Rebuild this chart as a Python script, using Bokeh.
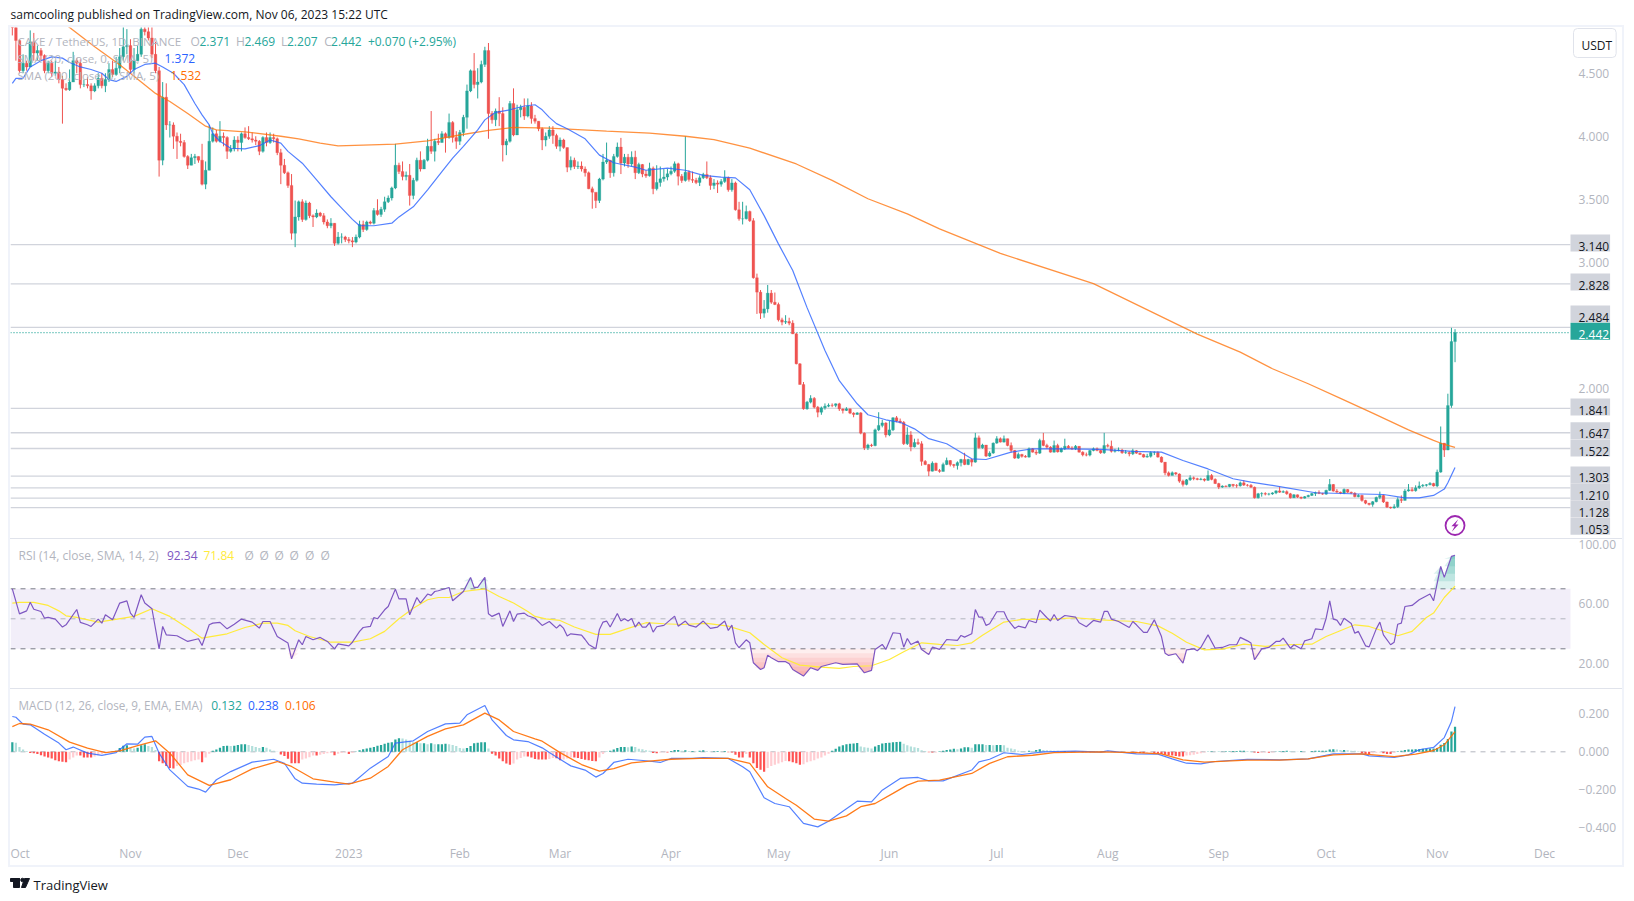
from bokeh.core.properties import value
from bokeh.embed import file_html
from bokeh.layouts import column
from bokeh.models import BoxAnnotation, ColumnDataSource, FixedTicker, Label, NumeralTickFormatter, Range1d
from bokeh.plotting import figure
from bokeh.resources import INLINE

FONT = "Open Sans"
GREEN = "#26a69a"
RED = "#ef5350"
GREY = "#b2b5be"
PANE_W = 1612

first_open = 4.95
closes = [
    4.90,4.76,4.52,4.58,4.55,4.75,4.66,4.68,4.64,4.52,
    4.58,4.50,4.51,4.45,4.38,4.37,4.43,4.60,4.58,4.41,
    4.41,4.40,4.36,4.40,4.46,4.40,4.45,4.53,4.49,4.54,
    4.63,4.71,4.72,4.53,4.60,4.65,4.85,4.83,4.78,4.65,
    4.52,3.81,4.31,4.09,4.09,4.00,3.96,3.95,3.84,3.77,
    3.83,3.84,3.81,3.62,3.73,3.96,4.02,3.96,4.00,3.99,
    3.88,3.90,3.97,3.95,4.02,3.99,3.98,3.97,3.96,3.88,
    3.99,3.95,3.99,3.98,3.87,3.77,3.71,3.61,3.23,3.36,
    3.48,3.34,3.47,3.37,3.36,3.39,3.37,3.32,3.29,3.31,
    3.15,3.20,3.20,3.18,3.17,3.16,3.20,3.30,3.26,3.32,
    3.31,3.41,3.38,3.42,3.48,3.51,3.59,3.77,3.72,3.68,
    3.69,3.53,3.65,3.81,3.74,3.81,3.92,3.88,3.96,3.95,
    4.02,3.99,4.11,3.99,3.96,4.03,4.15,4.36,4.52,4.41,
    4.43,4.57,4.68,4.18,4.13,4.20,4.18,3.93,3.96,4.26,
    4.01,4.21,4.23,4.16,4.24,4.14,4.12,4.06,3.97,4.00,
    4.05,4.006,3.92,3.97,3.91,3.755,3.81,3.76,3.763,3.74,
    3.71,3.583,3.556,3.49,3.66,3.795,3.81,3.71,3.84,3.914,
    3.787,3.834,3.78,3.834,3.71,3.776,3.70,3.686,3.747,3.583,
    3.633,3.662,3.676,3.702,3.723,3.781,3.683,3.649,3.715,3.657,
    3.65,3.633,3.67,3.697,3.67,3.61,3.63,3.62,3.64,3.67,
    3.575,3.63,3.416,3.345,3.345,3.403,3.33,2.877,2.763,2.596,
    2.63,2.755,2.683,2.665,2.543,2.525,2.53,2.517,2.432,2.194,
    2.03,1.837,1.89,1.92,1.85,1.81,1.845,1.858,1.865,1.864,
    1.877,1.836,1.824,1.837,1.803,1.792,1.805,1.644,1.527,1.55,
    1.545,1.67,1.705,1.725,1.63,1.67,1.766,1.74,1.73,1.56,
    1.63,1.535,1.57,1.56,1.42,1.395,1.342,1.406,1.348,1.34,
    1.395,1.427,1.395,1.387,1.41,1.435,1.395,1.435,1.414,1.607,
    1.528,1.55,1.462,1.486,1.565,1.60,1.573,1.60,1.546,1.507,
    1.446,1.475,1.46,1.454,1.52,1.493,1.485,1.586,1.546,1.533,
    1.493,1.546,1.495,1.52,1.54,1.527,1.52,1.54,1.493,1.472,
    1.47,1.506,1.52,1.507,1.488,1.546,1.54,1.50,1.505,1.51,
    1.488,1.49,1.48,1.505,1.485,1.475,1.454,1.46,1.49,1.49,
    1.454,1.414,1.329,1.308,1.33,1.32,1.263,1.237,1.274,1.29,
    1.283,1.276,1.28,1.27,1.308,1.277,1.244,1.216,1.224,1.22,
    1.238,1.228,1.226,1.25,1.232,1.23,1.215,1.131,1.163,1.165,
    1.16,1.161,1.17,1.186,1.175,1.18,1.163,1.131,1.155,1.136,
    1.128,1.14,1.15,1.165,1.173,1.165,1.16,1.19,1.237,1.184,
    1.176,1.168,1.197,1.175,1.168,1.14,1.15,1.11,1.088,1.078,
    1.10,1.134,1.15,1.098,1.057,1.05,1.06,1.117,1.11,1.185,
    1.195,1.187,1.21,1.225,1.23,1.235,1.245,1.225,1.335,1.565,
    1.51,1.863,2.371,2.442,
]
highs = [
    5.0,4.9,4.77,4.65,4.6,4.84,4.82,4.72,4.7,4.65,
    4.6,4.6,4.6,4.55,4.48,4.42,4.53,4.67,4.62,4.61,
    4.45,4.47,4.42,4.42,4.5,4.5,4.5,4.58,4.6,4.63,
    4.7,4.87,4.85,4.77,4.7,4.72,4.92,4.9,4.9,4.9,
    4.75,4.55,4.43,4.42,4.12,4.11,4.03,4.02,3.97,3.85,
    3.86,3.86,3.84,3.94,3.8,4.09,4.07,4.05,4.12,4.03,
    4.0,3.93,4.0,4.0,4.03,4.07,4.08,4.03,4.0,3.97,
    4.0,4.03,4.03,4.02,3.99,3.9,3.82,3.72,3.70,3.49,
    3.49,3.5,3.49,3.48,3.38,3.42,3.40,3.39,3.34,3.35,
    3.31,3.24,3.23,3.21,3.2,3.2,3.22,3.33,3.33,3.33,
    3.33,3.43,3.5,3.44,3.52,3.53,3.6,3.94,3.79,3.8,
    3.72,3.78,3.67,3.83,3.88,3.82,3.98,4.2,3.98,4.02,
    4.04,4.03,4.18,4.12,4.04,4.05,4.17,4.41,4.53,4.66,
    4.54,4.6,4.71,4.74,4.2,4.22,4.31,4.23,3.98,4.28,
    4.38,4.25,4.25,4.3,4.3,4.27,4.17,4.12,4.07,4.03,
    4.08,4.08,4.02,3.99,3.98,3.91,3.84,3.83,3.8,3.8,
    3.76,3.72,3.6,3.55,3.67,3.86,3.95,3.81,3.86,3.95,
    3.987,3.86,3.86,3.88,3.885,3.79,3.78,3.73,3.79,3.76,
    3.77,3.76,3.74,3.74,3.76,3.8,3.79,3.7,4.0,3.73,
    3.72,3.67,3.69,3.71,3.8,3.69,3.66,3.65,3.66,3.73,
    3.68,3.66,3.64,3.48,3.48,3.45,3.41,3.35,2.91,2.78,
    2.7,2.82,2.78,2.76,2.68,2.56,2.58,2.56,2.54,2.44,
    2.2,2.05,1.9,1.945,1.93,1.86,1.855,1.88,1.88,1.88,
    1.88,1.885,1.84,1.85,1.84,1.81,1.81,1.81,1.65,1.56,
    1.56,1.68,1.81,1.75,1.73,1.74,1.77,1.78,1.76,1.74,
    1.69,1.66,1.6,1.6,1.58,1.43,1.4,1.42,1.41,1.36,
    1.41,1.45,1.43,1.4,1.42,1.44,1.488,1.44,1.44,1.646,
    1.625,1.56,1.55,1.5,1.57,1.62,1.61,1.625,1.6,1.57,
    1.51,1.49,1.48,1.47,1.53,1.525,1.51,1.6,1.646,1.56,
    1.54,1.585,1.56,1.53,1.6,1.55,1.54,1.55,1.54,1.5,
    1.49,1.51,1.53,1.53,1.51,1.646,1.56,1.585,1.52,1.53,
    1.52,1.51,1.5,1.52,1.51,1.49,1.48,1.48,1.5,1.5,
    1.5,1.46,1.415,1.34,1.34,1.335,1.325,1.275,1.28,1.31,
    1.3,1.29,1.29,1.285,1.348,1.32,1.285,1.25,1.23,1.23,
    1.24,1.24,1.24,1.26,1.27,1.24,1.24,1.22,1.17,1.175,
    1.175,1.17,1.175,1.19,1.22,1.19,1.19,1.17,1.16,1.157,
    1.14,1.145,1.155,1.17,1.18,1.19,1.17,1.195,1.28,1.24,
    1.2,1.18,1.205,1.2,1.18,1.175,1.16,1.155,1.115,1.09,
    1.105,1.14,1.18,1.155,1.1,1.06,1.08,1.135,1.15,1.2,
    1.24,1.215,1.23,1.26,1.24,1.24,1.255,1.25,1.355,1.697,
    1.565,1.957,2.48,2.469,
]
lows = [
    4.8,4.6,4.5,4.5,4.52,4.55,4.6,4.6,4.6,4.5,
    4.5,4.47,4.48,4.42,4.1,4.36,4.36,4.45,4.5,4.38,
    4.39,4.38,4.29,4.35,4.38,4.38,4.35,4.43,4.47,4.48,
    4.5,4.6,4.65,4.5,4.5,4.6,4.63,4.8,4.76,4.62,
    4.5,3.68,3.77,4.05,3.99,3.9,3.82,3.92,3.83,3.74,
    3.77,3.78,3.79,3.61,3.58,3.73,3.95,3.95,3.95,3.92,
    3.82,3.87,3.88,3.88,3.88,3.98,3.97,3.95,3.93,3.85,
    3.87,3.92,3.94,3.95,3.85,3.62,3.70,3.59,3.18,3.12,
    3.33,3.32,3.33,3.35,3.28,3.35,3.36,3.3,3.27,3.27,
    3.13,3.14,3.15,3.16,3.15,3.12,3.15,3.19,3.24,3.25,
    3.3,3.3,3.37,3.36,3.4,3.47,3.49,3.58,3.7,3.65,
    3.65,3.45,3.5,3.64,3.72,3.74,3.8,3.86,3.8,3.93,
    3.95,3.87,3.98,3.95,3.9,3.93,4.0,4.06,4.35,4.38,
    4.3,4.42,4.55,3.98,4.1,4.08,4.08,3.8,3.85,3.95,
    4.0,4.01,4.15,4.13,4.15,4.1,4.1,4.04,3.89,3.92,
    3.98,3.94,3.9,3.88,3.9,3.715,3.73,3.74,3.74,3.72,
    3.68,3.58,3.425,3.43,3.47,3.65,3.78,3.67,3.68,3.83,
    3.7,3.76,3.75,3.76,3.66,3.70,3.675,3.67,3.68,3.54,
    3.57,3.6,3.64,3.65,3.69,3.71,3.61,3.63,3.64,3.64,
    3.63,3.62,3.605,3.66,3.66,3.575,3.58,3.55,3.6,3.63,
    3.56,3.56,3.41,3.33,3.30,3.34,3.32,2.87,2.59,2.55,
    2.56,2.6,2.67,2.66,2.53,2.5,2.51,2.5,2.43,2.19,
    2.03,1.83,1.83,1.88,1.84,1.77,1.79,1.83,1.85,1.85,
    1.85,1.82,1.8,1.82,1.795,1.77,1.79,1.635,1.51,1.51,
    1.535,1.54,1.66,1.69,1.61,1.62,1.66,1.73,1.72,1.55,
    1.55,1.50,1.53,1.55,1.385,1.39,1.303,1.34,1.345,1.33,
    1.34,1.39,1.38,1.37,1.355,1.38,1.39,1.39,1.38,1.41,
    1.52,1.52,1.455,1.455,1.48,1.56,1.57,1.57,1.54,1.49,
    1.44,1.44,1.45,1.45,1.45,1.49,1.47,1.48,1.54,1.52,
    1.49,1.49,1.49,1.49,1.51,1.52,1.51,1.51,1.49,1.46,
    1.46,1.46,1.5,1.5,1.48,1.48,1.53,1.49,1.49,1.5,
    1.48,1.48,1.46,1.47,1.48,1.47,1.45,1.45,1.45,1.47,
    1.45,1.41,1.31,1.3,1.31,1.31,1.25,1.22,1.23,1.265,
    1.27,1.27,1.27,1.26,1.265,1.27,1.24,1.2,1.21,1.215,
    1.215,1.215,1.21,1.22,1.225,1.22,1.21,1.125,1.125,1.14,
    1.15,1.15,1.155,1.16,1.17,1.17,1.155,1.125,1.13,1.13,
    1.12,1.125,1.135,1.145,1.145,1.16,1.155,1.155,1.185,1.18,
    1.17,1.16,1.16,1.17,1.16,1.135,1.135,1.1,1.08,1.07,
    1.06,1.095,1.12,1.09,1.05,1.045,1.045,1.05,1.09,1.11,
    1.18,1.18,1.18,1.2,1.215,1.22,1.23,1.22,1.215,1.33,
    1.455,1.51,1.845,2.207,
]
days = list(range(-2, 402))

sma20_days = [-2,-1,1,3,6,9,12,14,17,20,23,25,27,30,32,35,38,40,43,46,49,51,53,54,56,59,63,67,70,73,75,79,83,87,90,93,95,99,104,106,110,114,118,121,124,128,130,133,137,141,144,146,148,150,153,158,162,166,172,175,181,186,191,196,200,204,208,212,216,220,225,229,234,237,242,246,250,254,259,266,270,277,283,293,302,311,319,325,332,339,344,350,362,372,381,387,391,395,398,399,401]
sma20 = [4.42,4.46,4.46,4.55,4.6,4.63,4.62,4.585,4.55,4.53,4.5,4.45,4.435,4.475,4.53,4.57,4.58,4.55,4.5,4.41,4.26,4.17,4.09,4.02,3.96,3.905,3.9,3.925,3.97,3.945,3.88,3.786,3.654,3.52,3.43,3.34,3.29,3.29,3.31,3.36,3.44,3.575,3.72,3.826,3.92,4.05,4.13,4.19,4.21,4.24,4.25,4.21,4.15,4.1,4.06,3.98,3.85,3.79,3.755,3.73,3.747,3.73,3.69,3.675,3.67,3.575,3.37,3.146,2.935,2.64,2.3,2.06,1.877,1.79,1.75,1.73,1.678,1.6,1.56,1.44,1.435,1.493,1.52,1.52,1.515,1.5,1.493,1.427,1.36,1.282,1.255,1.229,1.171,1.163,1.157,1.131,1.131,1.15,1.2,1.25,1.372]
sma200_days = [5,14,21,28,38,42,47,52,55,63,73,78,84,89,96,105,114,123,131,138,148,164,176,186,194,204,217,227,237,248,257,274,300,329,341,350,360,369,378,388,395,398,401]
sma200 = [5.05,4.863,4.71,4.567,4.34,4.276,4.18,4.08,4.05,4.035,4.0,3.98,3.945,3.924,3.93,3.937,3.964,4.01,4.046,4.07,4.064,4.04,4.025,4.0,3.974,3.906,3.78,3.65,3.504,3.384,3.265,3.07,2.83,2.43,2.287,2.155,2.036,1.92,1.803,1.67,1.586,1.554,1.532]

levels = [3.140, 2.828, 2.484, 1.841, 1.647, 1.522, 1.303, 1.210, 1.128, 1.053]
last_price = 2.442
price_ticks = [2.0, 3.0, 3.5, 4.0, 4.5]

rsi_days = [-2,0,2,3,4,6,7,8,10,12,13,16,17,19,20,22,23,24,26,28,30,31,32,34,35,37,39,40,41,44,47,50,51,53,54,56,58,60,62,65,67,68,70,72,75,76,78,79,80,82,84,86,88,89,92,93,95,96,98,99,100,102,103,105,106,108,109,111,112,114,115,116,117,120,121,124,126,127,128,130,131,132,134,135,137,138,139,141,142,144,146,148,150,151,
    152,153,154,157,158,159,161,162,163,164,165,167,168,169,170,171,172,173,174,175,176,177,178,180,183,184,186,187,189,191,193,195,197,198,199,200,201,203,204,205,207,208,209,210,212,214,215,216,219,221,223,224,228,230,234,236,238,239,241,242,244,246,247,248,249,251,252,254,255,257,259,262,263,264,266,267,268,269,270,271,273,275,276,278,279,281,282,284,285,287,288,289,290,292,295,296,298,300,302,
    303,304,305,307,310,311,312,314,315,317,319,320,321,323,325,326,328,329,330,332,334,336,338,340,341,343,344,345,347,349,351,352,353,355,356,358,359,361,362,364,365,366,367,368,369,370,372,373,374,376,377,379,380,381,383,384,385,386,387,389,391,394,395,397,398,400,401]
rsi = [70,53.3,55.3,61.1,56.4,54.9,50.4,50.9,49.8,44.5,46,56.2,47.6,46,44.9,49.8,47.1,52.7,49.3,60.5,62,53.8,50.9,66,60.5,56.7,30,44.9,39.3,38.7,34.9,36.7,32.2,46,47.1,47.6,43.3,46.4,49.8,47.8,43.8,48.2,48.2,38.2,33.8,23.3,36,32.7,38.2,36,37.6,34.9,30,33.3,32,34.4,41.6,44.2,44.9,50.9,50,56,58.2,69.8,63.3,63.3,52.7,64.2,60.5,66.5,65.6,68.2,68.7,70.9,62,68.2,77.6,70.9,70.9,77.6,53.3,51.6,53.8,44.9,55.3,48.2,53.1,53.8,52,50.4,45.6,48.2,43.8,46,
    43.6,38.5,40,39.1,36.2,32.9,30,42.9,47.8,48.5,44.5,53.6,48.5,50,48.5,50.2,44.5,47.8,44.5,44.5,47.4,41.1,44.7,45.6,51.8,45.1,48.5,45.8,44.5,48.5,43.6,44.5,48.5,42.2,45.8,34,30.7,36,34,20.7,16.2,17.4,25.8,24,21.4,21.4,20,16.2,11.8,17.4,15.6,18.2,20.7,19.6,20,14,15.6,29.6,32.9,29.6,40.7,40.2,31.1,36.9,32.9,35.1,29.6,26.2,31.1,29.6,36.2,35.6,38.9,37.8,40,56.2,51.1,51.1,45.6,46.7,54.7,54.7,49.6,43.6,45.1,44,48.9,47.4,55.8,50.7,48.5,52.9,48.9,52.2,51.1,47.4,44.7,48.9,47.8,
    54.9,54.9,49.8,48.2,44.2,48.2,46,40.9,40.9,49.3,38.2,27.1,25.6,26.7,20.5,29.3,30,28.7,30.9,39.3,30.4,30.9,32.7,32.7,37.6,35.3,33.8,22.7,30,30.9,34.9,34.9,37.1,30.4,32.7,30,35.3,36.7,43.3,42.7,50.4,62,49.8,49.1,45.6,50.4,46.9,40.4,41.6,32,31.3,43.3,47.8,39.3,32.7,34.4,46.4,47.1,58.2,58.9,62.7,66.5,62,84.9,77.6,91.6,92.34]
rsi_ma_days = [-2,0,4,8,11,13,16,22,26,32,37,42,47,51,58,63,68,72,75,77,81,87,93,98,102,106,110,114,117,120,124,130,134,138,142,144,147,151,155,161,165,170,175,180,185,192,198,204,208,213,218,224,229,233,238,243,247,252,257,262,266,269,275,280,287,295,302,307,312,318,322,326,331,336,342,348,354,361,365,373,377,385,389,393,395,398,401]
rsi_ma = [60.4,60.9,60.9,58.9,55.3,52,50.9,47.8,49.3,51.6,56.7,51.6,43.8,37.1,40,44.2,47.1,47.1,45.6,42,38.2,34.4,34.4,36.7,41.6,50,57.1,62.7,64.2,64.2,68.2,70,64.9,60.5,54.9,51.6,50,48.9,44.5,39.6,39.6,43.6,47.4,46.7,46.2,46.9,45.1,40.7,32.9,24,19.1,17.8,16.9,18.2,18.7,22.9,28,34,32.9,32.2,34,39.1,47.8,49.6,49.6,50.7,49.3,48.7,48.2,45.3,40.4,34.4,29.3,29.8,33.1,31.6,32.7,33.1,38.2,46,44.9,38.7,41.6,50.9,53.8,64.2,71.84]
rsi_ticks = [20, 60, 100]

macd_days = [-2,-1,1,3,7,11,13,15,19,23,27,30,33,35,37,39,42,47,50,52,55,59,65,71,74,77,79,83,88,93,98,103,105,110,114,119,123,125,130,132,136,138,142,146,148,151,154,158,161,163,166,170,175,179,182,188,191,198,202,204,208,211,215,219,223,226,234,238,241,246,251,254,258,266,268,271,275,280,286,295,302,304,312,318,322,326,330,334,343,352,360,367,375,377,384,388,391,395,398,400,401]
macd = [.186,.182,.146,.142,.093,.046,.011,.025,-.007,-.019,-.004,.042,.04,.077,.081,-.007,-.095,-.182,-.196,-.212,-.147,-.104,-.054,-.039,-.06,-.142,-.165,-.17,-.174,-.165,-.086,-.025,.046,.058,.107,.147,.151,.195,.244,.168,.086,.063,.054,.021,-.004,-.039,-.074,-.096,-.133,-.114,-.056,-.039,-.047,-.056,-.035,-.035,-.03,-.035,-.079,-.105,-.242,-.272,-.289,-.377,-.395,-.365,-.26,-.263,-.202,-.14,-.135,-.153,-.153,-.096,-.053,-.039,-.005,-.014,0,.004,-.002,.005,-.011,-.012,-.037,-.06,-.063,-.051,-.039,-.042,-.037,-.011,-.011,-.021,-.03,-.016,.011,.023,.075,.16,.238]
signal_days = [-2,0,3,8,14,19,24,28,33,38,42,47,53,59,65,72,76,82,88,92,98,103,107,114,119,124,130,134,138,144,146,151,157,162,166,171,176,182,190,198,204,209,214,217,222,226,231,235,239,244,248,251,257,266,271,276,283,289,302,312,319,325,331,343,352,360,367,375,384,390,395,398,401]
signal = [.133,.149,.146,.116,.051,.019,-.004,.005,.032,.058,-.007,-.121,-.177,-.147,-.09,-.051,-.077,-.142,-.159,-.17,-.139,-.077,.011,.081,.121,.142,.204,.168,.107,.068,.056,-.004,-.067,-.102,-.088,-.058,-.049,-.039,-.035,-.035,-.061,-.184,-.246,-.281,-.354,-.365,-.337,-.289,-.272,-.219,-.175,-.154,-.149,-.114,-.061,-.026,-.018,-.004,0,-.004,-.011,-.042,-.054,-.044,-.044,-.037,-.016,-.011,-.025,-.012,.007,.037,.106]
hist = [
    .05,.048,.025,.012,.004,-.006,-.008,-.012,-.018,-.024,
    -.03,-.035,-.045,-.05,-.052,-.055,-.04,-.03,-.02,-.02,
    -.03,-.03,-.03,-.025,-.018,-.012,-.006,-.004,.002,.006,
    .02,.032,.034,.02,.018,.022,.034,.04,.03,.025,
    .01,-.05,-.06,-.075,-.085,-.088,-.075,-.07,-.06,-.055,
    -.05,-.045,-.04,-.055,-.03,-.01,.006,.012,.022,.03,
    .032,.03,.032,.036,.04,.04,.036,.03,.026,.02,
    .026,.022,.012,.006,.002,-.014,-.022,-.036,-.06,-.06,
    -.06,-.04,-.035,-.028,-.02,-.02,-.015,-.012,-.008,-.006,
    -.018,-.01,-.006,-.004,-.012,-.006,.002,.008,.014,.018,
    .022,.026,.032,.036,.042,.048,.05,.065,.072,.07,
    .065,.055,.05,.05,.045,.045,.04,.045,.04,.04,
    .04,.042,.04,.036,.03,.02,.018,.02,.03,.045,
    .048,.05,.05,.018,-.01,-.02,-.035,-.05,-.062,-.068,
    -.062,-.04,-.032,-.024,-.024,-.03,-.038,-.04,-.04,-.04,
    -.038,-.032,-.034,-.045,-.04,-.035,-.03,-.03,-.032,-.038,
    -.042,-.045,-.048,-.05,-.03,-.012,.002,.006,.012,.02,
    .026,.026,.024,.028,.026,.016,.014,.008,.006,-.006,
    -.008,-.004,-.002,-.004,.004,.01,.01,.006,.008,.004,
    .004,.002,.006,.008,.004,.002,.003,.004,.002,.004,
    -.002,-.004,-.016,-.03,-.03,-.012,-.03,-.06,-.085,-.095,
    -.105,-.085,-.075,-.068,-.062,-.055,-.048,-.05,-.055,-.06,
    -.068,-.065,-.055,-.05,-.045,-.035,-.03,-.02,-.01,.006,
    .016,.028,.034,.04,.042,.044,.046,.028,.024,.022,
    .018,.028,.036,.044,.046,.048,.05,.052,.053,.042,
    .034,.028,.024,.02,.008,.004,-.002,-.004,-.003,.003,
    .006,.01,.012,.016,.014,.018,.024,.024,.022,.04,
    .04,.04,.036,.036,.034,.036,.036,.034,.022,.018,
    .014,.006,.004,.002,.006,.004,.01,.014,.01,.008,
    .007,.006,.005,.004,.004,.003,.002,.001,-.001,-.002,
    -.002,-.002,.001,.002,.002,.001,.001,-.001,.001,.001,
    .001,.001,.001,-.002,-.004,-.006,-.006,-.005,-.004,-.006,
    -.008,-.012,-.015,-.018,-.02,-.022,-.024,-.025,-.02,-.018,
    -.016,-.012,-.008,-.004,.002,.003,.002,.002,.002,.003,
    .003,.004,.004,.006,.006,.004,.003,-.004,-.006,-.005,
    -.003,-.005,-.003,.002,.003,.004,.005,.004,.003,.002,
    .004,.002,.001,.004,.006,.006,.006,.006,.012,.014,
    .012,.01,.01,.008,.006,.005,.003,-.006,-.012,-.012,
    -.008,-.005,-.004,-.008,-.012,-.012,-.006,.003,.005,.01,
    .012,.012,.014,.014,.016,.016,.017,.018,.02,.037,
    .046,.067,.107,.132,
]
macd_ticks = [-0.4, -0.2, 0.0, 0.2]

month_days = [0, 31, 61, 92, 123, 151, 182, 212, 243, 273, 304, 335, 365, 396, 426]
month_names = ["Oct", "Nov", "Dec", "2023", "Feb", "Mar", "Apr", "May", "Jun", "Jul", "Aug", "Sep", "Oct", "Nov", "Dec"]

assert len(closes) == len(highs) == len(lows) == len(days) == len(hist), (len(closes), len(highs), len(lows), len(days), len(hist))
assert len(rsi_days) == len(rsi), (len(rsi_days), len(rsi))
assert len(macd_days) == len(macd) and len(signal_days) == len(signal), (len(macd_days), len(macd), len(signal_days), len(signal))
assert len(sma20_days) == len(sma20) and len(sma200_days) == len(sma200) and len(rsi_ma_days) == len(rsi_ma)

# frame runs under the scale column; the chart itself stops at PLOT_END
LEFT_DAY = -2.51
PLOT_END = 433.25
AXIS_DAY = 435.5
x_range = Range1d(LEFT_DAY, 447.78)


def pane(height, y_start, y_end, ticks, fmt, bottom=0, xaxis=None):
    p = figure(width=PANE_W, height=height, x_range=x_range, y_range=Range1d(y_start, y_end),
               toolbar_location=None, output_backend="svg", y_axis_location="right",
               x_axis_location=xaxis, min_border_left=0, min_border_right=0,
               min_border_top=0, min_border_bottom=bottom)
    p.grid.visible = False
    p.outline_line_color = None
    ax = p.yaxis[0]
    ax.fixed_location = AXIS_DAY
    ax.ticker = FixedTicker(ticks=ticks)
    ax.formatter = NumeralTickFormatter(format=fmt)
    ax.axis_line_color = None
    ax.major_tick_line_color = None
    ax.minor_tick_line_color = None
    ax.major_tick_out = 0
    ax.major_tick_in = 0
    ax.major_label_text_color = GREY
    ax.major_label_text_font = FONT
    ax.major_label_text_font_size = "12px"
    ax.major_label_standoff = 0
    return p, ax


def hline(p, y, color, width, dash):
    p.line([LEFT_DAY, PLOT_END], [y, y], line_color=color, line_width=width, line_dash=dash)


def text(p, frame_h, top, x, y, s, color=GREY, size="12px"):
    # x,y are page pixels of the text's left/middle
    p.add_layout(Label(x=x - 10, y=frame_h - (y - top), x_units="screen", y_units="screen",
                       text=s, text_color=color, text_font=FONT, text_font_size=size,
                       text_baseline="middle", text_align="left"))


# price pane
price, _ = pane(511, 0.808, 4.863, price_ticks, "0.000")
for lv in levels:
    hline(price, lv, "#d1d4dc", 1.3, "solid")
hline(price, last_price, GREEN, 1.1, [1, 2])

opens = [first_open] + closes[:-1]
candle_colors = [GREEN if c >= o else RED for o, c in zip(opens, closes)]
candles = ColumnDataSource(dict(x=days, o=opens, c=closes, h=highs, l=lows, col=candle_colors))
price.segment("x", "h", "x", "l", source=candles, line_color="col", line_width=1)
price.vbar("x", 0.76, "o", "c", source=candles, fill_color="col", line_color="col", line_width=0.3)
price.line(sma200_days, sma200, line_color="#ff6d00", line_width=1.3, line_alpha=0.75)
price.line(sma20_days, sma20, line_color="#2962ff", line_width=1.2, line_alpha=0.8)

# lightning badge under the last candle
badge_x, badge_y = 401, 0.911
price.scatter([badge_x], [badge_y], size=19, fill_color="white", line_color="#9c27b0", line_width=1.8)
price.patch([badge_x + d for d in (0.9, -1.0, -0.1, -0.9, 1.0, 0.1)],
            [badge_y + d for d in (0.05, -0.005, -0.005, -0.05, 0.008, 0.008)],
            color="#9c27b0", line_width=0)

# scale tags are spread apart so they do not overlap, page y of each tag
tag_page_y = [242.6, 281.5, 313.6, 406.6, 430.3, 447.6, 474.4, 491.6, 508.5, 525.8]
for lv, tag_y in zip(levels, tag_page_y):
    price.add_layout(Label(x=1560, y=511 - (tag_y - 27), y_units="screen", x_units="screen", text=f"{lv:.3f}",
                           text_color="#131722", text_font=FONT, text_font_size="12px", text_baseline="middle",
                           background_fill_color="#d1d4dc", padding=(8, 1, 7, 1)))
price.add_layout(Label(x=1560, y=511 - (330.8 - 27), y_units="screen", x_units="screen", text=f"{last_price:.3f}",
                       text_color="white", text_font=FONT, text_font_size="12px", text_baseline="middle",
                       background_fill_color=GREEN, padding=(8, 1, 7, 1)))
price.add_layout(Label(x=1563, y=495.5, x_units="screen", y_units="screen", text="USDT", text_color="#131722",
                       text_font=FONT, text_font_size="12px", text_baseline="middle", border_radius=4,
                       border_line_color="#e0e3eb", background_fill_color="white", padding=(8, 4, 8, 4)))

top_legend = [(17, 40.7, "CAKE / TetherUS, 1D, BINANCE", GREY, "11.5px"), (190, 40.7, "O", GREY, "12px"), (199, 40.7, "2.371", GREEN, "12px"),
              (235.5, 40.7, "H", GREY, "12px"), (244, 40.7, "2.469", GREEN, "12px"), (280.6, 40.7, "L", GREY, "12px"), (286.5, 40.7, "2.207", GREEN, "12px"),
              (323.7, 40.7, "C", GREY, "12px"), (330.6, 40.7, "2.442", GREEN, "12px"), (367.4, 40.7, "+0.070 (+2.95%)", GREEN, "12px"),
              (17, 57.7, "SMA (20, close, 0, SMA, 5)", GREY, "11.5px"), (164, 57.7, "1.372", "#2962ff", "12px"),
              (17, 75, "SMA (200, close, 0, SMA, 5)", GREY, "11.5px"), (170, 75, "1.532", "#ff6d00", "12px")]
for lx, ly, s, col, sz in top_legend:
    text(price, 511, 27, lx, ly, s, col, sz)

# rsi pane
rsi_p, _ = pane(150, 2.87, 102.87, rsi_ticks, "0.00")
rsi_p.add_layout(BoxAnnotation(left=LEFT_DAY, right=PLOT_END, bottom=30, top=70, fill_color="#7e57c2", fill_alpha=0.1, line_alpha=0, level="underlay"))
hline(rsi_p, 70, "#787b86", 1, [5, 5])
hline(rsi_p, 30, "#787b86", 1, [5, 5])
hline(rsi_p, 50, "#b2b5be", 1, [5, 5])
for lv in (30, 27, 24, 21, 18, 15):
    rsi_p.varea(rsi_days, [lv] * len(rsi), [min(v, lv) for v in rsi], fill_color=RED, fill_alpha=0.09)
for lv in (70, 75, 80, 85, 90):
    rsi_p.varea(rsi_days, [lv] * len(rsi), [max(v, lv) for v in rsi], fill_color=GREEN, fill_alpha=0.16)
rsi_p.line(rsi_ma_days, rsi_ma, line_color="#ffeb3b", line_width=1.2)
rsi_p.line(rsi_days, rsi, line_color="#7e57c2", line_width=1.2)
rsi_legend = [(18, "RSI (14, close, SMA, 14, 2)", GREY), (166.4, "92.34", "#7e57c2"), (203, "71.84", "#ffeb3b"),
              (244, "Ø", GREY), (259, "Ø", GREY), (274, "Ø", GREY), (289, "Ø", GREY), (304.6, "Ø", GREY), (320, "Ø", GREY)]
for lx, s, col in rsi_legend:
    text(rsi_p, 150, 538, lx, 554, s, col)

# macd pane
macd_p, macd_ax = pane(177, -0.472, 0.328, macd_ticks, "0.000", bottom=25, xaxis="below")
macd_ax.major_label_overrides = {-0.4: "\u22120.400", -0.2: "\u22120.200"}
hline(macd_p, 0, "#b2b5be", 1, [5, 5])
hist_colors = []
for j, v in enumerate(hist):
    prev = hist[j - 1] if j else v
    if v >= 0:
        hist_colors.append(GREEN if v >= prev else "#b2dfdb")
    else:
        hist_colors.append("#ff5252" if v <= prev else "#ffcdd2")
macd_p.vbar(days, 0.62, 0, hist, fill_color=hist_colors, line_color=None)
macd_p.line(macd_days, macd, line_color="#2962ff", line_width=1.2, line_alpha=0.8)
macd_p.line(signal_days, signal, line_color="#ff6d00", line_width=1.3, line_alpha=0.9)
xax = macd_p.xaxis[0]
xax.ticker = FixedTicker(ticks=month_days)
xax.major_label_overrides = dict(zip(month_days, month_names))
xax.axis_line_color = None
xax.major_tick_line_color = None
xax.minor_tick_line_color = None
xax.major_tick_out = 0
xax.major_tick_in = 0
xax.major_label_text_color = GREY
xax.major_label_text_font = FONT
xax.major_label_text_font_size = "12px"
xax.major_label_standoff = 3
macd_legend = [(18, "MACD (12, 26, close, 9, EMA, EMA)", GREY, "11.7px"), (210.7, "0.132", GREEN, "12px"), (247.5, "0.238", "#2962ff", "12px"), (284.6, "0.106", "#ff6d00", "12px")]
for lx, s, col, sz in macd_legend:
    text(macd_p, 152, 688, lx, 703.7, s, col, sz)

rsi_p.styles = {"border-top": "1px solid #e0e3eb"}
macd_p.styles = {"border-top": "1px solid #e0e3eb"}
panes = column(price, rsi_p, macd_p, spacing=0, styles={"border": "2px solid #f0f3fa"})


def strip(height):
    s = figure(width=1618, height=height, x_range=Range1d(0, 1618), y_range=Range1d(height, 0),
               toolbar_location=None, output_backend="svg", min_border=0, x_axis_location=None, y_axis_location=None)
    s.grid.visible = False
    s.outline_line_color = None
    return s


head = strip(21)
head.text([2], [10], text=["samcooling published on TradingView.com, Nov 06, 2023 15:22 UTC"], text_color="#131722",
          text_font=value(FONT), text_font_size="12px", text_baseline="middle")

foot = strip(26)
foot.quad(left=[2], right=[11], top=[11], bottom=[14], color="#131722")
foot.quad(left=[5], right=[11], top=[11], bottom=[20], color="#131722")
foot.scatter([14], [12.5], size=3.5, color="#131722")
foot.patch([16, 21, 17, 13], [11, 11, 20, 20], color="#131722")
foot.text([25], [17], text=["TradingView"], text_color="#131722", text_font=value(FONT), text_font_size="13px", text_baseline="middle")

page = column(head, panes, foot, spacing=0, margin=(4, 0, 0, 8))
open("out.html", "w").write(file_html(page, INLINE))
